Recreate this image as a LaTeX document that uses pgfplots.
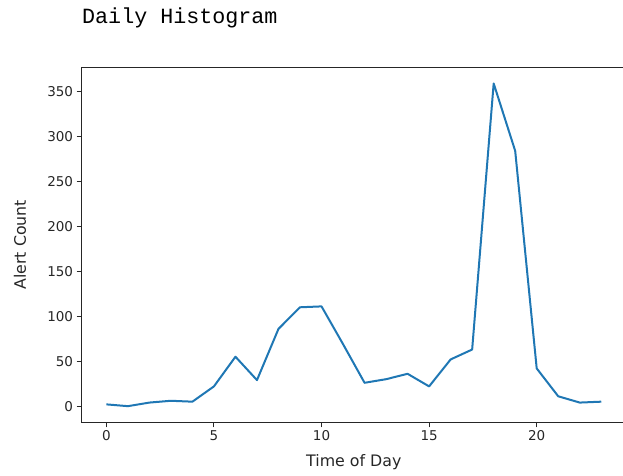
\documentclass[border=0pt]{standalone}
\usepackage{fontspec}
\setmainfont{DejaVu Sans}
\newfontfamily\monofont{Liberation Mono}
\usepackage{pgfplots}
\pgfplotsset{compat=1.18}
\definecolor{mplblue}{HTML}{1F77B4}
\begin{document}
\begin{tikzpicture}
\useasboundingbox (-81.6pt,-52.7pt) rectangle (541.4pt,422.3pt);
\clip (-81.6pt,-52.7pt) rectangle (541.4pt,422.3pt);
\begin{axis}[
  at={(0pt,0pt)}, anchor=south west,
  scale only axis,
  width=544.4pt, height=355pt,
  xmin=-1.15, xmax=24.15,
  ymin=-17.95, ymax=376.95,
  xtick={0,5,10,15,20},
  ytick={0,50,100,150,200,250,300,350},
  xtick pos=bottom, ytick pos=left,
  tick align=outside,
  major tick length=5pt,
  axis line style={black!85, line width=1pt},
  every tick/.style={black!85, line width=1pt},
  tick label style={font=\fontsize{13.5}{16}\selectfont, text=black!85},
  /pgf/number format/assume math mode=true,
  xlabel={Time of Day},
  ylabel={Alert Count},
  every axis x label/.style={at={(axis description cs:0.5,-0.1118)}, anchor=center, font=\fontsize{15.8}{18}\selectfont, text=black!85},
  every axis y label/.style={at={(axis description cs:-0.1132,0.5)}, anchor=center, rotate=90, font=\fontsize{15.8}{18}\selectfont, text=black!85},
]
\addplot[mplblue, line width=2pt, line join=round] coordinates {
(0,2) (1,0) (2,4) (3,6) (4,5) (5,22) (6,55) (7,29) (8,86) (9,110)
(10,111) (11,69) (12,26) (13,30) (14,36) (15,22) (16,52) (17,63)
(18,359) (19,284) (20,42) (21,11) (22,4) (23,5)
};
\end{axis}
\node[anchor=west, inner sep=0pt, font=\monofont\fontsize{21.7}{24}\selectfont] at (0.4pt,404.8pt) {Daily Histogram};
\end{tikzpicture}
\end{document}
